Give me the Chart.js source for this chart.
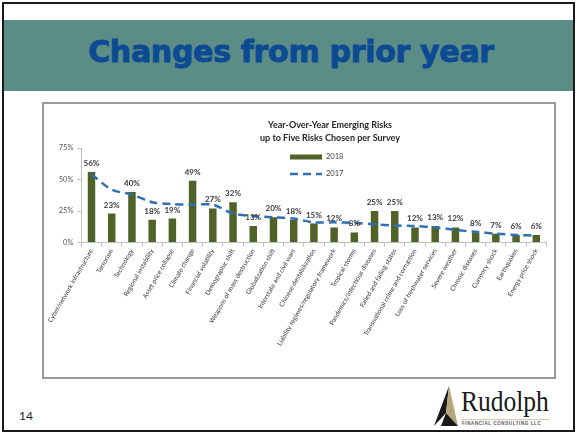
<!DOCTYPE html>
<html>
<head>
<meta charset="utf-8">
<script src="https://cdn.jsdelivr.net/npm/chart.js@4.4.1/dist/chart.umd.min.js"></script>
<style>
  body { margin: 0; background: #fff; }
  #slide { position: relative; width: 577px; height: 435px; overflow: hidden; }
  .frame { position: absolute; left: 2px; top: 2px; width: 569px; height: 426px; border: 2px solid #1a1a1a; }
  .band { position: absolute; left: 4px; top: 20px; width: 569px; height: 71px; background: #5b8c85; }
  .heading { position: absolute; left: 0; top: 37px; width: 582px; line-height: 30px; text-align: center;
    font-family: 'DejaVu Sans', sans-serif; font-weight: bold; font-size: 30px; color: #0c4a94;
    -webkit-text-stroke: 0.9px #0c4a94; letter-spacing: -0.3px; }
  .box { position: absolute; left: 42px; top: 102px; width: 514px; height: 277px; box-sizing: border-box; border: 2px solid #9a9a9a; }
  #chart { position: absolute; left: 43px; top: 104px; }
  .page { position: absolute; left: 19px; top: 408px; font: 12px Lato, sans-serif; color: #262626; }
  .logo-mark { position: absolute; left: 432px; top: 385px; }
  .logo-name { position: absolute; left: 461px; top: 386px; font: 30px 'Liberation Serif', serif; color: #1a1a1a;
    line-height: 30px; transform: scaleX(0.85); transform-origin: left top; }
  .logo-rule { position: absolute; left: 462px; top: 419px; width: 88px; height: 1px; background: #d6cba6; }
  .logo-sub { position: absolute; left: 462px; top: 421px; font: bold 4.5px 'Liberation Sans', sans-serif; letter-spacing: 0.6px; color: #555; white-space: nowrap; }
</style>
</head>
<body>
<div id="slide">
  <div class="frame"></div>
  <div class="band"></div>
  <div class="heading">Changes from prior year</div>
  <div class="box"></div>
  <canvas id="chart" width="511" height="273"></canvas>
  <div class="page">14</div>
  <svg class="logo-mark" width="30" height="44" viewBox="0 0 30 44">
    <polygon points="17,1 2,41 14,28" fill="#1a1a1a"/>
    <polygon points="17,1 14,28 26,41" fill="#b7a67a"/>
    <polygon points="14,28 9,41 26,41" fill="#1a1a1a"/>
  </svg>
  <div class="logo-name">Rudolph</div>
  <div class="logo-rule"></div>
  <div class="logo-sub">FINANCIAL CONSULTING LLC</div>
</div>
<script>
const categories = ['Cyber/network infrastructure', 'Terrorism', 'Technology', 'Regional instability',
  'Asset price collapse', 'Climate change', 'Financial volatility', 'Demographic shift',
  'Weapons of mass destruction', 'Globalization shift', 'Interstate and civil wars',
  'Chinese destabilization', 'Liability regimes/regulatory framework', 'Tropical storms',
  'Pandemics/infectious diseases', 'Failed and failing states', 'Transnational crime and corruption',
  'Loss of freshwater services', 'Severe weather', 'Chronic diseases', 'Currency shock',
  'Earthquakes', 'Energy price shock']
const risks2018 = [56, 23, 40, 18, 19, 49, 27, 32, 13, 20, 18, 15, 12, 8, 25, 25, 12, 13, 12, 8, 7, 6, 6]
const risks2017 = [54, 42, 38, 32, 30.5, 30, 30, 23, 21, 20, 19, 16, 16, 15.5, 14.5, 13.5, 13, 12, 10, 8.5, 7, 6, 5.5]
const yTicks = [0, 25, 50, 75]
const chartTitle = ['Year-Over-Year Emerging Risks', 'up to Five Risks Chosen per Survey']

// value labels above the 2018 bars
const barLabels = {
  id: 'barLabels',
  afterDatasetsDraw(chart) {
    const { ctx } = chart
    const ds = chart.data.datasets[0]
    ctx.save()
    ctx.font = 'bold 8px Lato'
    ctx.fillStyle = '#3a3a3a'
    ctx.textAlign = 'center'
    ctx.textBaseline = 'alphabetic'
    chart.getDatasetMeta(0).data.forEach((bar, i) => {
      ctx.fillText(ds.data[i] + '%', bar.x, bar.y - 6)
    })
    ctx.restore()
  }
}

// two-line title and the stacked legend sit off-centre, as in the slide
const titleLegend = {
  id: 'titleLegend',
  afterDraw(chart) {
    const { ctx } = chart
    ctx.save()
    ctx.fillStyle = '#262626'
    ctx.font = 'bold 9px Lato'
    ctx.textAlign = 'center'
    ctx.textBaseline = 'middle'
    chartTitle.forEach((line, i) => ctx.fillText(line, 287, 21 + i * 13))

    const x = 247, w = 32
    chart.data.datasets.forEach((ds, i) => {
      const y = 53 + i * 17
      if (ds.type === 'line') {
        ctx.strokeStyle = ds.borderColor
        ctx.lineWidth = ds.borderWidth
        ctx.setLineDash(ds.borderDash)
        ctx.beginPath()
        ctx.moveTo(x, y)
        ctx.lineTo(x + w, y)
        ctx.stroke()
        ctx.setLineDash([])
      } else {
        ctx.fillStyle = ds.backgroundColor
        ctx.fillRect(x, y - 2.5, w, 5)
      }
      ctx.fillStyle = '#404040'
      ctx.font = '7.5px Lato'
      ctx.textAlign = 'left'
      ctx.fillText(ds.label, x + w + 4, y)
    })
    ctx.restore()
  }
}

new Chart(document.getElementById('chart'), {
  type: 'bar',
  data: {
    labels: categories,
    datasets: [{
      label: '2018',
      data: risks2018,
      backgroundColor: '#4f6228',
      barPercentage: 0.37,
      categoryPercentage: 1,
      order: 1
    }, {
      type: 'line',
      label: '2017',
      data: risks2017,
      borderColor: '#2f6fb3',
      borderWidth: 2.5,
      borderDash: [8, 5],
      pointRadius: 0,
      tension: 0.3,
      fill: false,
      order: 0
    }]
  },
  options: {
    responsive: false,
    animation: false,
    layout: { padding: { top: 44, right: 7.6, left: 0, bottom: 0 } },
    plugins: {
      legend: { display: false },
      tooltip: { enabled: false }
    },
    scales: {
      x: {
        grid: { drawOnChartArea: false, tickLength: 4, color: '#bfbfbf', offset: true },
        border: { color: '#bfbfbf' },
        ticks: {
          autoSkip: false,
          minRotation: 60,
          maxRotation: 60,
          padding: 1,
          color: '#333333',
          font: { family: 'Lato', size: 6.5 }
        },
        afterFit(s) { s.height = 134.5 }
      },
      y: {
        min: 0,
        max: 75,
        afterBuildTicks(s) { s.ticks = yTicks.map(v => ({ value: v })) },
        grid: { drawOnChartArea: false, tickLength: 4, color: '#bfbfbf' },
        border: { color: '#bfbfbf' },
        ticks: {
          callback: v => v + '%',
          padding: 4,
          color: '#595959',
          font: { family: 'Lato', size: 7.5 }
        },
        afterFit(s) { s.width = 38.4 }
      }
    }
  },
  plugins: [barLabels, titleLegend]
})
</script>
</body>
</html>
